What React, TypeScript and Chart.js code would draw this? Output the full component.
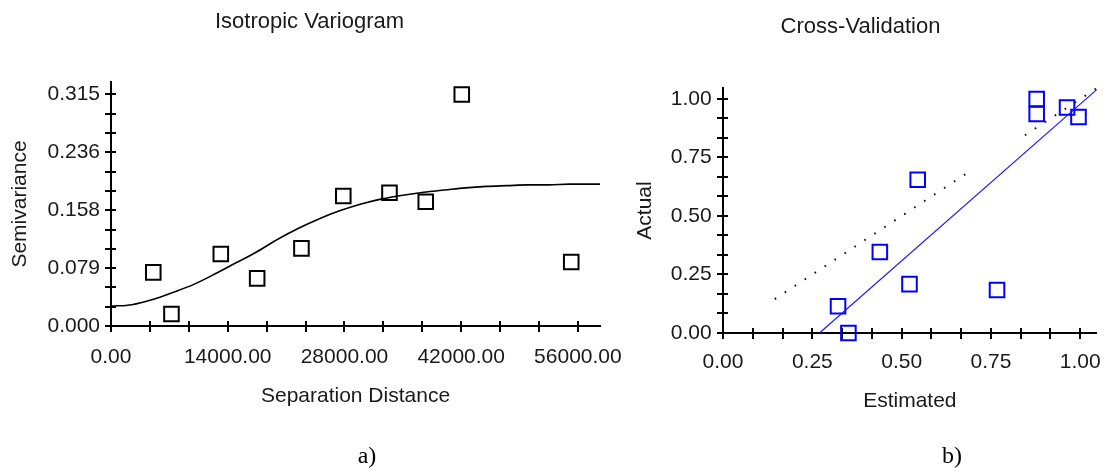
import React, { useEffect, useRef } from 'react';
import { Chart, registerables } from 'chart.js';

Chart.register(...registerables);

// ---------- a) Isotropic Variogram ----------
const lagDistance = [5070, 7250, 13170, 17530, 22840, 27860, 33400, 37750, 42070, 55200];
const semivariance = [0.073, 0.0163, 0.098, 0.0648, 0.1056, 0.1768, 0.1813, 0.169, 0.315, 0.087];
const modelDistance = [0, 2500, 5000, 7500, 10000, 12500, 15000, 17500, 20000, 22500, 25000, 27500, 30000, 32500, 35000, 37500, 40000, 42500, 45000, 47500, 50000, 52500, 55000, 58650];
const modelSemivariance = [0.027, 0.029, 0.036, 0.046, 0.057, 0.071, 0.086, 0.101, 0.118, 0.133, 0.146, 0.157, 0.166, 0.173, 0.178, 0.182, 0.185, 0.188, 0.19, 0.191, 0.192, 0.192, 0.193, 0.193];
const xTickValuesA = [0, 14000, 28000, 42000, 56000];
const xTickLabelsA = ['0.00', '14000.00', '28000.00', '42000.00', '56000.00'];
const yTickValuesA = [0, 0.07875, 0.1575, 0.23625, 0.315];
const yTickLabelsA = ['0.000', '0.079', '0.158', '0.236', '0.315'];
const xMaxA = 58650;
const yMaxA = 0.332;

// ---------- b) Cross-Validation ----------
const estimated = [0.322, 0.351, 0.439, 0.522, 0.767, 0.545, 0.878, 0.878, 0.963, 0.995];
const actual = [0.114, 0.0, 0.346, 0.209, 0.184, 0.655, 1.0, 0.936, 0.964, 0.923];
const regressionX = [0.27, 1.046];
const regressionY = [0.0, 1.04];
const oneToOneX = [0.145, 0.7, 0.77, 0.845, 1.046];
const oneToOneY = [0.145, 0.7, null, 0.845, 1.046];
const xTickValuesB = [0, 0.25, 0.5, 0.75, 1.0];
const xTickLabelsB = ['0.00', '0.25', '0.50', '0.75', '1.00'];
const yTickValuesB = [0, 0.25, 0.5, 0.75, 1.0];
const yTickLabelsB = ['0.00', '0.25', '0.50', '0.75', '1.00'];
const xMaxB = 1.046;
const yMaxB = 1.047;

const FONT = "'Liberation Sans', Arial, sans-serif";
const TEXT = '#1a1a1a';

function minorTicks(majors: number[], sub: number): number[] {
  const out: number[] = [];
  for (let i = 0; i < majors.length - 1; i++) {
    const a = majors[i];
    const b = majors[i + 1];
    for (let k = 0; k < sub; k++) out.push(a + ((b - a) * k) / sub);
  }
  out.push(majors[majors.length - 1]);
  return out;
}

const crossTicks = {
  id: 'crossTicks',
  beforeDatasetsDraw(chart: any, _args: any, opts: any) {
    const { ctx, chartArea } = chart;
    const xs = chart.scales.x;
    const ys = chart.scales.y;
    ctx.save();
    ctx.strokeStyle = '#000';
    ctx.lineWidth = 2;
    ctx.beginPath();
    for (const v of opts.xTicks || []) {
      const p = Math.round(xs.getPixelForValue(v));
      ctx.moveTo(p, chartArea.bottom - 5);
      ctx.lineTo(p, chartArea.bottom + 6);
    }
    for (const v of opts.yTicks || []) {
      const p = Math.round(ys.getPixelForValue(v));
      ctx.moveTo(chartArea.left - 6, p);
      ctx.lineTo(chartArea.left + 5, p);
    }
    ctx.stroke();
    ctx.restore();
  },
};

interface AxisCfg {
  max: number;
  tickValues: number[];
  tickLabels: string[];
  tickPadding: number;
  title: string;
  titlePad: any;
  size: number;
}

function makeScale(cfg: AxisCfg, horizontal: boolean) {
  return {
    type: 'linear',
    min: 0,
    max: cfg.max,
    grid: { display: true, drawOnChartArea: false, drawTicks: false },
    border: { display: true, color: '#000', width: 2 },
    afterBuildTicks: (s: any) => {
      s.ticks = cfg.tickValues.map((v) => ({ value: v }));
    },
    afterFit: (s: any) => {
      if (horizontal) s.height = cfg.size;
      else s.width = cfg.size;
      s.paddingLeft = 0;
      s.paddingRight = 0;
      s.paddingTop = 0;
      s.paddingBottom = 0;
    },
    ticks: {
      autoSkip: false,
      maxRotation: 0,
      minRotation: 0,
      padding: cfg.tickPadding,
      color: TEXT,
      font: { family: FONT, size: 21 },
      callback: (_v: any, i: number) => cfg.tickLabels[i],
    },
    title: {
      display: true,
      text: cfg.title,
      color: TEXT,
      font: { family: FONT, size: 21 },
      padding: cfg.titlePad,
    },
  };
}

function useChart(ref: React.RefObject<HTMLCanvasElement>, build: () => any) {
  useEffect(() => {
    if (!ref.current) return;
    const chart = new Chart(ref.current, build());
    return () => chart.destroy();
  }, []);
}

export default function App() {
  const refA = useRef<HTMLCanvasElement>(null);
  const refB = useRef<HTMLCanvasElement>(null);

  useChart(refA, () => ({
    type: 'scatter',
    data: {
      datasets: [
        {
          label: 'Model',
          data: modelDistance.map((x, i) => ({ x, y: modelSemivariance[i] })),
          showLine: true,
          borderColor: '#000',
          borderWidth: 1.6,
          pointRadius: 0,
          cubicInterpolationMode: 'monotone',
          clip: false,
        },
        {
          label: 'Semivariance',
          data: lagDistance.map((x, i) => ({ x, y: semivariance[i] })),
          pointStyle: 'rect',
          pointRadius: 10.3,
          pointBorderWidth: 2,
          borderColor: '#000',
          backgroundColor: 'rgba(0,0,0,0)',
          pointBackgroundColor: 'rgba(0,0,0,0)',
          clip: false,
        },
      ],
    },
    options: {
      responsive: false,
      animation: false,
      events: [],
      layout: { padding: { left: 19, right: 40, top: 0, bottom: 0 } },
      scales: {
        x: makeScale(
          { max: xMaxA, tickValues: xTickValuesA, tickLabels: xTickLabelsA, tickPadding: 19, title: 'Separation Distance', titlePad: { top: 0, bottom: 58.7 }, size: 142 },
          true
        ),
        y: makeScale(
          { max: yMaxA, tickValues: yTickValuesA, tickLabels: yTickLabelsA, tickPadding: 11, title: 'Semivariance', titlePad: { top: -11.6, bottom: 0 }, size: 92 },
          false
        ),
      },
      plugins: {
        legend: { display: false },
        tooltip: { enabled: false },
        title: {
          display: true,
          text: 'Isotropic Variogram',
          color: TEXT,
          font: { family: FONT, size: 22, weight: 'normal' },
          padding: { top: 8.5, bottom: 47.1 },
        },
        crossTicks: {
          xTicks: minorTicks(xTickValuesA, 3),
          yTicks: minorTicks(yTickValuesA, 3),
        },
      },
    },
    plugins: [crossTicks],
  }));

  useChart(refB, () => ({
    type: 'scatter',
    data: {
      datasets: [
        {
          label: '1:1',
          data: oneToOneX.map((x, i) => ({ x, y: oneToOneY[i] })),
          showLine: true,
          spanGaps: false,
          borderColor: '#111',
          borderWidth: 2,
          borderDash: [1.6, 10.3],
          pointRadius: 0,
          clip: false,
        },
        {
          label: 'Regression',
          data: regressionX.map((x, i) => ({ x, y: regressionY[i] })),
          showLine: true,
          borderColor: '#1a1aff',
          borderWidth: 1.2,
          pointRadius: 0,
          clip: false,
        },
        {
          label: 'Cross-validation',
          data: estimated.map((x, i) => ({ x, y: actual[i] })),
          pointStyle: 'rect',
          pointRadius: 10.3,
          pointBorderWidth: 2,
          borderColor: '#0000ff',
          backgroundColor: 'rgba(0,0,0,0)',
          pointBackgroundColor: 'rgba(0,0,0,0)',
          clip: false,
        },
      ],
    },
    options: {
      responsive: false,
      animation: false,
      events: [],
      layout: { padding: { left: 9, right: 9, top: 0, bottom: 0 } },
      scales: {
        x: makeScale(
          { max: xMaxB, tickValues: xTickValuesB, tickLabels: xTickLabelsB, tickPadding: 17.1, title: 'Estimated', titlePad: { top: 0, bottom: 53.7 }, size: 135 },
          true
        ),
        y: makeScale(
          { max: yMaxB, tickValues: yTickValuesB, tickLabels: yTickLabelsB, tickPadding: 11.3, title: 'Actual', titlePad: { top: 11.4, bottom: 0 }, size: 102 },
          false
        ),
      },
      plugins: {
        legend: { display: false },
        tooltip: { enabled: false },
        title: {
          display: true,
          text: 'Cross-Validation',
          color: TEXT,
          font: { family: FONT, size: 22, weight: 'normal' },
          padding: { top: 14.1, bottom: 47.5 },
        },
        crossTicks: {
          xTicks: minorTicks(xTickValuesB, 3),
          yTicks: minorTicks(yTickValuesB, 3),
        },
      },
    },
    plugins: [crossTicks],
  }));

  const capStyle: React.CSSProperties = {
    position: 'absolute',
    width: 60,
    top: 441,
    height: 28,
    lineHeight: '28px',
    textAlign: 'center',
    fontFamily: "'Liberation Serif', 'Times New Roman', serif",
    fontSize: 24,
    color: '#000',
  };

  return (
    <div style={{ position: 'absolute', left: 0, top: 0, width: 1109, height: 468, background: '#fff', overflow: 'hidden' }}>
      <canvas ref={refA} width={640} height={468} style={{ position: 'absolute', left: 0, top: 0 }} />
      <canvas ref={refB} width={497} height={468} style={{ position: 'absolute', left: 612, top: 0 }} />
      <div style={{ ...capStyle, left: 367 - 30 }}>a)</div>
      <div style={{ ...capStyle, left: 952 - 30 }}>b)</div>
    </div>
  );
}
